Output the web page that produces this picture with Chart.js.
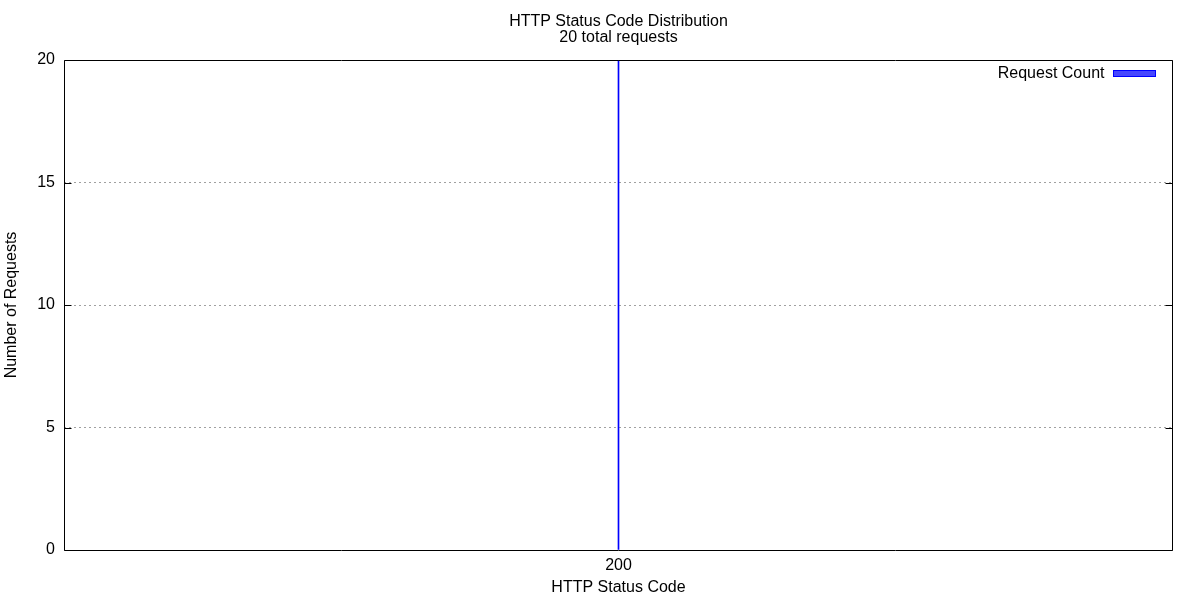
<!DOCTYPE html>
<html>
<head>
<meta charset="utf-8">
<script src="https://cdn.jsdelivr.net/npm/chart.js@4/dist/chart.umd.min.js"></script>
<style>
html,body{margin:0;padding:0;background:#fff;}
#wrap{width:1200px;height:600px;}
</style>
</head>
<body>
<div id="wrap"><canvas id="c" width="1200" height="600"></canvas></div>
<script>
const categories = ['200'];
const requestCounts = [20];
const seriesName = 'Request Count';
const titleText = 'HTTP Status Code Distribution';
const subtitleText = '20 total requests';
const yTicks = [0, 5, 10, 15, 20];

const FONT = "'Liberation Sans', Arial, sans-serif";

const framePlugin = {
  id: 'frame',
  afterDraw(chart) {
    const {ctx, chartArea: a} = chart;
    const y = chart.scales.y;
    const L = Math.round(a.left) + 0.5;
    const R = Math.round(a.right) - 1 + 0.5;
    const T = Math.round(a.top) + 0.5;
    const B = Math.round(a.bottom) + 0.5;
    ctx.save();
    ctx.strokeStyle = '#000';
    ctx.lineWidth = 1;
    ctx.beginPath();
    yTicks.forEach(v => {
      const py = Math.round(y.getPixelForValue(v)) + 0.5;
      ctx.moveTo(L, py); ctx.lineTo(L + 7, py);
      ctx.moveTo(R, py); ctx.lineTo(R - 7, py);
    });
    ctx.moveTo(L, T); ctx.lineTo(R, T); ctx.lineTo(R, B); ctx.lineTo(L, B); ctx.closePath();
    ctx.stroke();

    // key (legend) in the top-right corner of the plot, text left of sample
    const ds = chart.data.datasets[0];
    const boxW = 42, boxH = 6;
    const bx = R - 17 - boxW, by = T + 10;
    ctx.fillStyle = 'rgba(50,50,255,0.9)';
    ctx.fillRect(bx, by, boxW, boxH);
    ctx.strokeStyle = '#0000ff';
    ctx.strokeRect(bx, by, boxW, boxH);
    ctx.fillStyle = '#000';
    ctx.font = '16px ' + FONT;
    ctx.textAlign = 'right';
    ctx.textBaseline = 'middle';
    ctx.fillText(ds.label, bx - 9, by + boxH / 2);
    ctx.restore();
  }
};

new Chart(document.getElementById('c'), {
  type: 'bar',
  data: {
    labels: categories,
    datasets: [{
      label: seriesName,
      data: requestCounts,
      backgroundColor: '#0000ff',
      borderWidth: 0,
      barThickness: 1
    }]
  },
  options: {
    responsive: false,
    animation: false,
    devicePixelRatio: 1,
    layout: {padding: {left: 0, right: 27, top: 0, bottom: 0}},
    plugins: {
      title: {
        display: true, text: titleText, color: '#000', fullSize: false,
        font: {family: FONT, size: 16, weight: 'normal', lineHeight: 1.0},
        padding: {top: 14, bottom: 0}
      },
      subtitle: {
        display: true, text: subtitleText, color: '#000', fullSize: false,
        font: {family: FONT, size: 16, weight: 'normal', lineHeight: 1.0},
        padding: {top: 0, bottom: 14}
      },
      legend: {display: false},
      tooltip: {enabled: false}
    },
    scales: {
      x: {
        type: 'category',
        grid: {display: false, drawTicks: false},
        border: {display: false},
        ticks: {color: '#000', font: {family: FONT, size: 16}, padding: 6},
        title: {
          display: true, text: 'HTTP Status Code', color: '#000',
          font: {family: FONT, size: 16}, padding: {top: 0, bottom: 3}
        },
        afterFit(s) { s.height = 50; }
      },
      y: {
        min: 0, max: 20,
        afterBuildTicks(s) { s.ticks = yTicks.map(v => ({value: v})); },
        grid: {
          color(ctx) { return (ctx.tick && (ctx.tick.value === 0 || ctx.tick.value === 20)) ? 'rgba(0,0,0,0)' : '#a0a0a0'; },
          drawTicks: false, lineWidth: 1
        },
        border: {display: false, dash: [2, 3]},
        ticks: {color: '#000', font: {family: FONT, size: 16}, padding: 9},
        title: {
          display: true, text: 'Number of Requests', color: '#000',
          font: {family: FONT, size: 16}, padding: {top: 2, bottom: 0}
        },
        afterFit(s) { s.width = 64; }
      }
    }
  },
  plugins: [framePlugin]
});
</script>
</body>
</html>
